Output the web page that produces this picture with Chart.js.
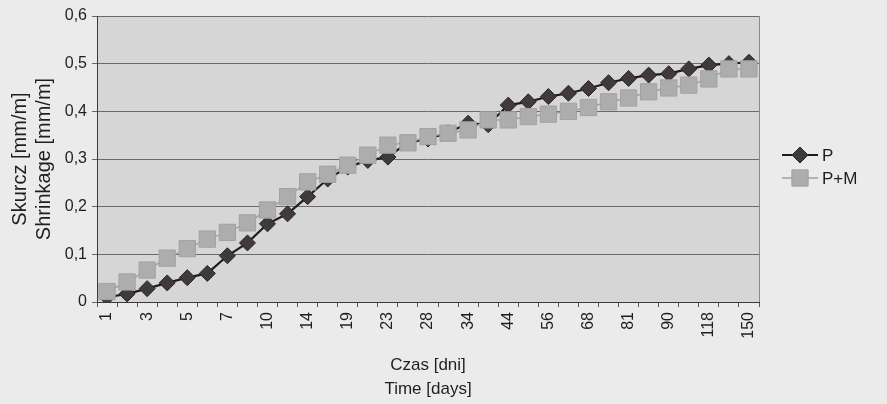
<!DOCTYPE html>
<html><head><meta charset="utf-8">
<script src="https://cdn.jsdelivr.net/npm/chart.js@4/dist/chart.umd.min.js"></script>
<style>html,body{margin:0;padding:0;background:#ebebeb;}#wrap{width:887px;height:404px;}</style>
</head><body><div id="wrap"><canvas id="c" width="887" height="404"></canvas></div>
<script>
// Category labels (days); unlabeled categories in the original are left blank
const dayLabels = ['1','','3','','5','','7','','10','','14','','19','','23','','28','','34','','44','','56','','68','','81','','90','','118','','150'];
// Series P (dark diamonds)
const seriesP = [0.010,0.017,0.028,0.040,0.051,0.060,0.097,0.124,0.164,0.185,0.221,0.258,0.283,0.297,0.304,0.335,0.342,0.355,0.375,0.372,0.413,0.420,0.431,0.438,0.448,0.460,0.469,0.476,0.479,0.489,0.497,0.500,0.503];
// Series P+M (grey squares)
const seriesPM = [0.022,0.042,0.067,0.092,0.112,0.132,0.146,0.166,0.193,0.221,0.252,0.268,0.287,0.308,0.329,0.334,0.347,0.354,0.361,0.382,0.382,0.389,0.394,0.400,0.408,0.420,0.428,0.441,0.449,0.455,0.468,0.489,0.489];
const seriesNames = ['P','P+M'];
const yTickValues = [0,0.1,0.2,0.3,0.4,0.5,0.6];
const yTitle = ['Skurcz [mm/m]','Shrinkage [mm/m]'];
const xTitle = ['Czas [dni]','Time [days]'];

const FONT = "'Liberation Sans', Arial, sans-serif";
const TEXT = '#1e1e1e';

const bgPlugin = {
  id: 'bg',
  beforeDraw(chart) {
    const {ctx, chartArea: a} = chart;
    ctx.save();
    ctx.fillStyle = '#ebebeb';
    ctx.fillRect(0, 0, chart.width, chart.height);
    ctx.fillStyle = '#d6d6d6';
    ctx.fillRect(a.left, a.top, a.right - a.left, a.bottom - a.top);
    ctx.restore();
  },
  beforeDatasetsDraw(chart) {
    const {ctx, chartArea: a} = chart;
    ctx.save();
    ctx.strokeStyle = '#8a8a8a';
    ctx.lineWidth = 1;
    ctx.beginPath();
    ctx.moveTo(a.right + 0.5, a.top);
    ctx.lineTo(a.right + 0.5, a.bottom);
    ctx.stroke();
    ctx.restore();
  }
};

const legendPlugin = {
  id: 'customLegend',
  afterDraw(chart) {
    const ctx = chart.ctx;
    const rows = [{y: 155, ds: 0}, {y: 178, ds: 1}];
    ctx.save();
    rows.forEach(r => {
      const d = chart.data.datasets[r.ds];
      ctx.strokeStyle = d.borderColor;
      ctx.lineWidth = d.borderWidth;
      ctx.beginPath();
      ctx.moveTo(782, r.y);
      ctx.lineTo(818, r.y);
      ctx.stroke();
      ctx.fillStyle = d.pointBackgroundColor;
      ctx.strokeStyle = d.pointBorderColor;
      ctx.lineWidth = 1;
      ctx.beginPath();
      const cx = 800, rad = d.pointRadius;
      if (d.pointStyle === 'rectRot') {
        ctx.moveTo(cx - rad, r.y); ctx.lineTo(cx, r.y - rad); ctx.lineTo(cx + rad, r.y); ctx.lineTo(cx, r.y + rad); ctx.closePath();
      } else {
        const s = rad * Math.SQRT1_2;
        ctx.rect(cx - s, r.y - s, 2 * s, 2 * s);
      }
      ctx.fill(); ctx.stroke();
      ctx.fillStyle = TEXT;
      ctx.font = '17px ' + FONT;
      ctx.textBaseline = 'middle';
      ctx.textAlign = 'left';
      ctx.fillText(d.label, 822, r.y + 1);
    });
    ctx.restore();
  }
};

new Chart(document.getElementById('c'), {
  type: 'line',
  data: {
    labels: dayLabels,
    datasets: [
      {
        label: seriesNames[0], data: seriesP, order: 2,
        borderColor: '#1f1c1c', borderWidth: 2.2,
        pointStyle: 'rectRot', pointRadius: 8,
        pointBackgroundColor: '#413a3b', pointBorderColor: '#2a2526', pointBorderWidth: 1,
        tension: 0
      },
      {
        label: seriesNames[1], data: seriesPM, order: 1,
        borderColor: '#a0a0a0', borderWidth: 1.5,
        pointStyle: 'rect', pointRadius: 11.5,
        pointBackgroundColor: '#adadad', pointBorderColor: '#a2a2a2', pointBorderWidth: 1,
        tension: 0
      }
    ]
  },
  options: {
    responsive: false,
    animation: false,
    layout: {padding: {left: 8, right: 128, top: 16, bottom: 3}},
    plugins: {legend: {display: false}, tooltip: {enabled: false}},
    scales: {
      x: {
        type: 'category',
        offset: true,
        grid: {display: true, drawOnChartArea: false, drawTicks: true, tickLength: 5, offset: true, color: '#555'},
        border: {color: '#3a3a3a', width: 1},
        ticks: {autoSkip: false, maxRotation: 90, minRotation: 90, padding: 5, color: TEXT, font: {family: FONT, size: 16}},
        title: {display: true, text: xTitle, color: TEXT, font: {family: FONT, size: 17, lineHeight: 1.4}, padding: {top: 0, bottom: 0}},
        afterFit(s) { s.height = 99; }
      },
      y: {
        min: 0, max: 0.6,
        afterBuildTicks(s) { s.ticks = yTickValues.map(v => ({value: v})); },
        grid: {color: '#6a6a6a', lineWidth: 1, tickLength: 5, drawTicks: true},
        border: {color: '#3a3a3a', width: 1},
        ticks: {padding: 5, color: TEXT, font: {family: FONT, size: 16},
          callback: v => v === 0 ? '0' : v.toFixed(1).replace('.', ',')},
        title: {display: true, text: yTitle, color: TEXT, font: {family: FONT, size: 20, lineHeight: 1.2}, padding: {top: 0, bottom: 0}},
        afterFit(s) { s.width = 89; }
      }
    }
  },
  plugins: [bgPlugin, legendPlugin]
});
</script>
</body></html>
